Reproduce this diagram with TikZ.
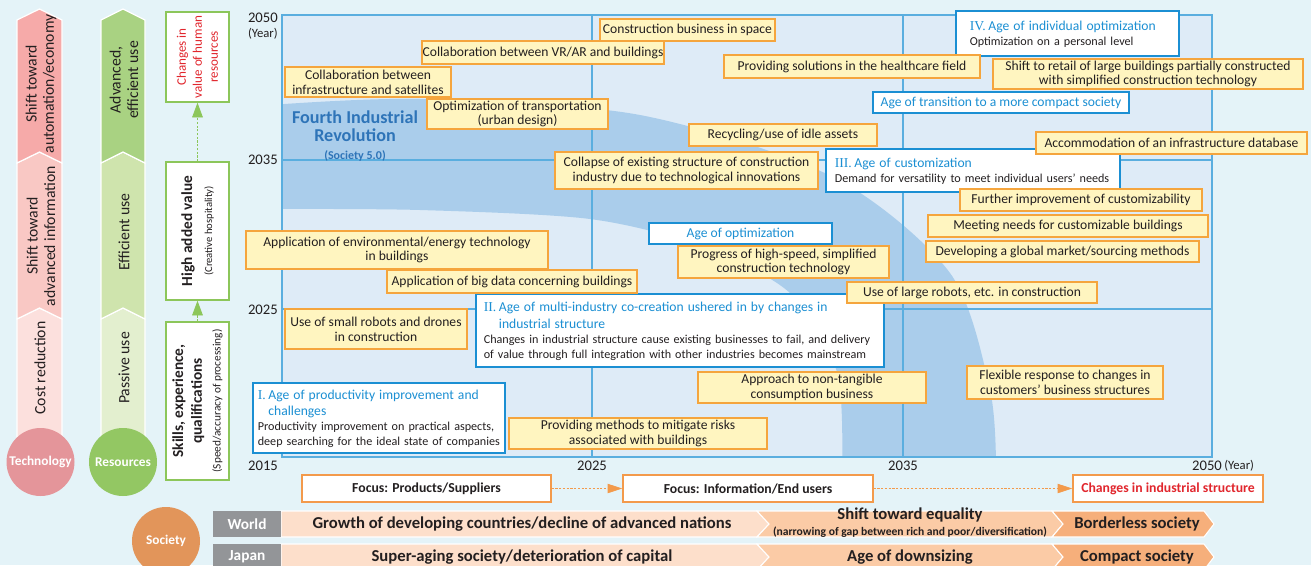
\documentclass[tikz,border=0pt]{standalone}
\usepackage{fontspec}
\setmainfont{Carlito}
\newfontfamily\numfont{Liberation Serif}
\usetikzlibrary{arrows.meta}

\definecolor{pagebg}{HTML}{E4F3F8}
\definecolor{chartbg}{HTML}{DEEBF7}
\definecolor{bandblue}{HTML}{AACDEB}
\definecolor{gridblue}{HTML}{5AAEDF}
\definecolor{noteyellow}{HTML}{FFF5C0}
\definecolor{noteorange}{HTML}{F5A53D}
\definecolor{ageblue}{HTML}{1B8FD3}
\definecolor{fourthblue}{HTML}{2E74B8}
\definecolor{inktext}{HTML}{231F20}
\definecolor{techA}{HTML}{F6AAA9}
\definecolor{techB}{HTML}{F9C8C4}
\definecolor{techC}{HTML}{FCE0DD}
\definecolor{techdot}{HTML}{E4959A}
\definecolor{resA}{HTML}{A9D282}
\definecolor{resB}{HTML}{CFE4AD}
\definecolor{resC}{HTML}{E3EFCF}
\definecolor{resdot}{HTML}{93C763}
\definecolor{hrgreen}{HTML}{8CC65A}
\definecolor{hrred}{HTML}{E1262D}
\definecolor{socdot}{HTML}{E2955A}
\definecolor{tagGrey}{HTML}{939598}
\definecolor{peachA}{HTML}{FDDFCB}
\definecolor{peachB}{HTML}{FBCBA6}
\definecolor{peachC}{HTML}{F6AF7B}
\definecolor{focusorange}{HTML}{F39A4B}

% title line of an "age" box: numeral + (possibly wrapped) title
\newcommand\agehead[2]{{\color{ageblue}\fontsize{10.2}{12.2}\selectfont
  \begin{tabular}[b]{@{}l@{\hspace{2pt}}l@{}}{\numfont #1} & #2\end{tabular}}}

\begin{document}
\begin{tikzpicture}[
  x=0.75pt, y=-0.75pt,
  font=\fontsize{10.2}{11}\selectfont,
  sz/.style 2 args={minimum width=#1*0.75pt, minimum height=#2*0.75pt},
  idea/.style={draw=noteorange, fill=noteyellow, line width=1.1pt, inner sep=0pt, align=center, text=inktext, font=\fontsize{10.2}{11}\selectfont},
  agebox/.style={draw=ageblue, fill=white, line width=1.2pt, anchor=north west, align=left, inner ysep=0pt, text=inktext, font=\fontsize{9.1}{11.2}\selectfont},
  agetag/.style={draw=ageblue, fill=white, line width=1.2pt, inner sep=0pt, text=ageblue, font=\fontsize{10.2}{12}\selectfont},
  gridline/.style={gridblue, line width=1.5pt},
  yearlbl/.style={inner sep=0pt, text=inktext, font=\fontsize{11}{12}\selectfont},
  yearunit/.style={inner sep=0pt, text=inktext, font=\fontsize{9.5}{10}\selectfont},
  colseg/.style={draw=white, line width=0.9pt},
  coltxt/.style={rotate=90, align=center, inner sep=0pt, text=inktext, font=\fontsize{11.8}{13}\selectfont},
  badge/.style={circle, minimum size=68*0.75pt, inner sep=0pt, text=white, font=\bfseries\fontsize{10}{12}\selectfont},
  hrbox/.style={draw=hrgreen, fill=white, line width=1.1pt, rotate=90, align=center, inner sep=0pt, text=inktext},
  hrarrow/.style={hrgreen, line width=0.6pt, dash pattern=on 1.6pt off 1.2pt, -{Triangle[length=11pt, width=8pt]}},
  focusbox/.style={draw=focusorange, fill=white, line width=1.1pt, inner sep=0pt, text=inktext, font=\bfseries\fontsize{10.3}{11}\selectfont},
  focusarrow/.style={focusorange, line width=0.6pt, dash pattern=on 1.6pt off 1.2pt, -{Triangle[length=11pt, width=7pt]}},
  ctrytag/.style={fill=tagGrey, text=white, inner sep=0pt, font=\bfseries\fontsize{11.5}{12}\selectfont},
  trend/.style={draw=white, line width=0.8pt},
  trendtxt/.style={inner sep=0pt, align=center, text=inktext, font=\bfseries\fontsize{12.5}{12}\selectfont}
]

\useasboundingbox (0,0) rectangle (1311,565);
\fill[pagebg] (0,0) rectangle (1311,565);

% ----------------------------- Timeline chart -----------------------------
\fill[chartbg] (282,15) rectangle (1212,457);
\begin{scope}
  \clip (282,15) rectangle (1212,457);
  \fill[bandblue]
    plot[smooth] coordinates {(270,105) (420,99) (640,115) (833,177) (950,273) (990,390) (996,470)}
    -- plot[smooth] coordinates {(842,470) (837,372) (790,293) (700,246) (590,219) (420,210) (270,209)}
    -- cycle;
\end{scope}
\draw[gridline] (592,15) -- (592,457);
\draw[gridline] (903,15) -- (903,457);
\draw[gridline] (282,160) -- (1212,160);
\draw[gridline] (282,309) -- (1212,309);
\draw[gridline] (282,15) rectangle (1212,457);

\node[align=center, inner sep=0pt, text=fourthblue, font=\bfseries\fontsize{13.6}{13.5}\selectfont] (fourth) at (355,136)
  {Fourth Industrial\\Revolution\\{\fontsize{9}{11}\selectfont(Society 5.0)}};

% Ages (white boxes).
\node[agebox, text width=146.25pt, inner xsep=10.5pt, sz={223}{45}] (ageIV) at (955,10)
  {\agehead{IV.}{Age of individual optimization}\\\mbox{Optimization on a personal level}};
\node[agetag, sz={256}{21}] (compact) at (1001,102.5) {Age of transition to a more compact society};
\node[agebox, text width=207pt, inner xsep=6.75pt, sz={294}{43}] (ageIII) at (825,148)
  {\agehead{III.}{Age of customization}\\\mbox{Demand for versatility to meet individual users’ needs}};
\node[agetag, sz={183}{21}] (optim) at (740.5,233.5) {Age of optimization};
\node[agebox, text width=294pt, inner xsep=6pt, sz={408}{73}] (ageII) at (475,293)
  {\agehead{II.}{Age of multi-industry co-creation ushered in by changes in\\ & industrial structure}\\
   \mbox{Changes in industrial structure cause existing businesses to fail, and delivery}\\
   \mbox{of value through full integration with other industries becomes mainstream}};
\node[agebox, text width=181.5pt, inner xsep=3.75pt, sz={252}{70}] (ageI) at (252,382)
  {\agehead{I.}{Age of productivity improvement and\\ & challenges}\\
   \mbox{Productivity improvement on practical aspects,}\\
   \mbox{deep searching for the ideal state of companies}};

% Topics (yellow boxes).
\node[idea, sz={175}{22}] (space) at (687.5,30) {Construction business in space};
\node[idea, sz={242}{23}] (vrar) at (543,52.5) {Collaboration between VR/AR and buildings};
\node[idea, sz={166}{30}] (satellite) at (368,82) {Collaboration between\\infrastructure and satellites};
\node[idea, sz={181}{30}] (transport) at (517.5,114) {Optimization of transportation\\(urban design)};
\node[idea, sz={256}{23}] (health) at (852,66.5) {Providing solutions in the healthcare field};
\node[idea, sz={310}{30}] (retail) at (1148,74) {Shift to retail of large buildings partially constructed\\with simplified construction technology};
\node[idea, sz={188}{22}] (recycle) at (783,135) {Recycling/use of idle assets};
\node[idea, sz={263}{37}] (collapse) at (686.5,170.5) {Collapse of existing structure of construction\\industry due to technological innovations};
\node[idea, sz={271}{22}] (infradb) at (1171.5,143) {Accommodation of an infrastructure database};
\node[idea, sz={242}{22}] (moreCustom) at (1081,200) {Further improvement of customizability};
\node[idea, sz={280}{22}] (customNeeds) at (1068,226) {Meeting needs for customizable buildings};
\node[idea, sz={273}{21}] (global) at (1062.5,251.5) {Developing a global market/sourcing methods};
\node[idea, sz={250}{21}] (largeRobots) at (972,292.5) {Use of large robots, etc. in construction};
\node[idea, sz={211}{32}] (highSpeed) at (783.5,262) {Progress of high-speed, simplified\\construction technology};
\node[idea, sz={302}{38}] (envTech) at (397,250) {Application of environmental/energy technology\\in buildings};
\node[idea, sz={250}{23}] (bigData) at (512,281.5) {Application of big data concerning buildings};
\node[idea, sz={182}{40}] (smallRobots) at (376,329) {Use of small robots and drones\\in construction};
\node[idea, sz={228}{31}] (intangible) at (812,387.5) {Approach to non-tangible\\consumption business};
\node[idea, sz={196}{33}] (flexible) at (1065,382.5) {Flexible response to changes in\\customers’ business structures};
\node[idea, sz={258}{31}] (riskMethods) at (638,433.5) {Providing methods to mitigate risks\\associated with buildings};

% Year labels.
\node[yearlbl, anchor=east] (yl2050) at (278,18) {2050};
\node[yearunit, anchor=east] (ylYear) at (278,34) {(Year)};
\foreach \y/\yr in {160/2035, 310/2025}
  \node[yearlbl, anchor=east] (yl\yr) at (278,\y) {\yr};
\foreach \x/\yr in {263/2015, 592/2025, 903/2035, 1207/2050}
  \node[yearlbl] (xl\yr) at (\x,466) {\yr};
\node[yearunit, anchor=west] (xlYear) at (1224,466) {(Year)};

% ----------------------------- Left columns -----------------------------
\foreach \xa/\xc/\xb/\col in {17/39.5/62/tech, 101/123/145/res}
  \foreach \yt/\yb/\s in {308/445/C, 152/308/B, 9/152/A}
    \filldraw[colseg, fill=\col\s]
      (\xa,\yt+11) -- (\xc,\yt) -- (\xb,\yt+11) -- (\xb,\yb+11) -- (\xc,\yb) -- (\xa,\yb+11) -- cycle;

\node[coltxt] (autoEcon) at (41,84) {Shift toward\\automation/economy};
\node[coltxt] (advInfo) at (41,236) {Shift toward\\advanced information};
\node[coltxt] (costRed) at (40,368) {Cost reduction};
\node[coltxt] (advUse) at (124,80) {Advanced,\\efficient use};
\node[coltxt] (effUse) at (124,232) {Efficient use};
\node[coltxt] (passUse) at (124,368) {Passive use};

\node[badge, fill=techdot] (tech) at (40.5,462) {Technology};
\node[badge, fill=resdot] (res) at (123,462) {Resources};

% Human resources column.
\node[hrbox, sz={90}{63}, text=hrred, font=\fontsize{9.8}{12}\selectfont] (humanRes) at (197.5,57)
  {Changes in\\value of human\\resources};
\node[hrbox, sz={138}{63}, font=\bfseries\fontsize{11.5}{15}\selectfont] (highVal) at (197.5,231)
  {High added value\\{\mdseries\fontsize{8}{10}\selectfont(Creative hospitality)}};
\node[hrbox, sz={158}{63}, font=\bfseries\fontsize{11.5}{14}\selectfont] (skills) at (197.5,401)
  {Skills, experience,\\qualifications\\{\mdseries\fontsize{8.5}{11}\selectfont(Speed/accuracy of processing)}};
\draw[hrarrow] (skills) -- (highVal);
\draw[hrarrow] (highVal) -- (humanRes);

% ----------------------------- Focus row -----------------------------
\node[focusbox, sz={249}{27}] (focusProd) at (426.5,488.5) {Focus: Products/Suppliers};
\node[focusbox, sz={250}{27}] (focusInfo) at (748,488.5) {Focus: Information/End users};
\node[focusbox, sz={190}{27}, text=hrred] (focusInd) at (1168,488.5) {Changes in industrial structure};
\draw[focusarrow] (focusProd) -- (focusInfo);
\draw[focusarrow] (focusInfo) -- (focusInd);

% ----------------------------- Society rows -----------------------------
\foreach \ya/\yb/\ym in {511/537/524, 544/570/557}
{
  \filldraw[trend, fill=peachA] (281,\ya) -- (757,\ya) -- (769,\ym) -- (757,\yb) -- (281,\yb) -- cycle;
  \filldraw[trend, fill=peachB] (757,\ya) -- (1052,\ya) -- (1063,\ym) -- (1052,\yb) -- (757,\yb) -- (769,\ym) -- cycle;
  \filldraw[trend, fill=peachC] (1052,\ya) -- (1204,\ya) -- (1214,\ym) -- (1204,\yb) -- (1052,\yb) -- (1063,\ym) -- cycle;
}
\node[ctrytag, sz={68}{26}] (world) at (247,524) {World};
\node[ctrytag, sz={68}{26}] (japan) at (247,557) {Japan};
\node[badge, fill=socdot] (society) at (166,541) {Society};

\node[trendtxt] (wGrowth) at (522,524) {Growth of developing countries/decline of advanced nations};
\node[trendtxt] (wEqual) at (910,523)
  {Shift toward equality\\{\fontsize{8.7}{10}\selectfont(narrowing of gap between rich and poor/diversification)}};
\node[trendtxt] (wBorder) at (1137,524) {Borderless society};
\node[trendtxt] (jAging) at (522,557) {Super-aging society/deterioration of capital};
\node[trendtxt] (jDown) at (910,557) {Age of downsizing};
\node[trendtxt] (jCompact) at (1137,557) {Compact society};

\end{tikzpicture}
\end{document}
